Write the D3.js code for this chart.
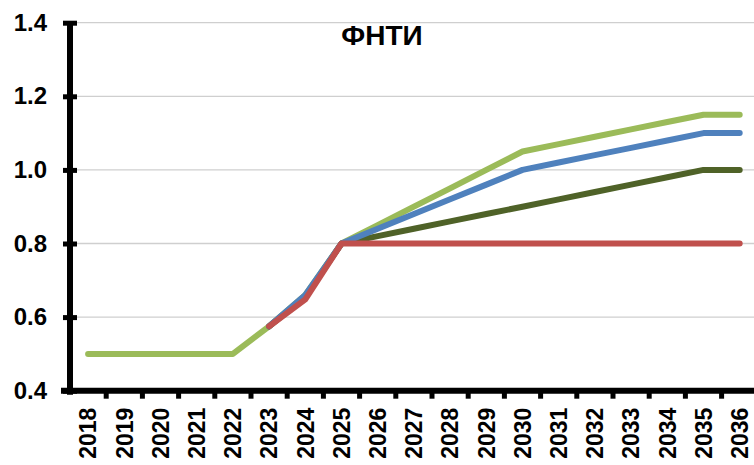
<!DOCTYPE html>
<html><head><meta charset="utf-8">
<script src="https://cdn.jsdelivr.net/npm/d3@7"></script>
<style>body{margin:0;background:#fff}svg{display:block}</style>
</head><body>
<script>
const years = ["2018","2019","2020","2021","2022","2023","2024","2025","2026","2027","2028","2029","2030","2031","2032","2033","2034","2035","2036"];
const yTicks = [0.4,0.6,0.8,1.0,1.2,1.4];
const title = "ФНТИ";
const lightGreen = [0.5,0.5,0.5,0.5,0.5,0.575,0.66,0.8,0.85,0.9,0.95,1.0,1.05,1.07,1.09,1.11,1.13,1.15,1.15];
const darkGreen  = [null,null,null,null,null,0.575,0.655,0.8,0.82,0.84,0.86,0.88,0.9,0.92,0.94,0.96,0.98,1.0,1.0];
const blue       = [null,null,null,null,null,0.575,0.66,0.8,0.84,0.88,0.92,0.96,1.0,1.02,1.04,1.06,1.08,1.1,1.1];
const red        = [null,null,null,null,null,0.575,0.648,0.8,0.8,0.8,0.8,0.8,0.8,0.8,0.8,0.8,0.8,0.8,0.8];
const seriesList = [
  {values: lightGreen, color: "#9BBB59"},
  {values: darkGreen, color: "#4F6228"},
  {values: blue, color: "#4F81BD"},
  {values: red, color: "#C0504D"}
];

const W = 754, H = 465;
const svg = d3.select("body").append("svg").attr("width", W).attr("height", H);
const x = d3.scaleBand().domain(years).range([70, 70 + 19*36.2]);
const y = d3.scaleLinear().domain([0.4, 1.4]).range([390.7, 22.7]);
const font = "Arial, 'Liberation Sans', sans-serif";

// gridlines
svg.append("g").selectAll("line").data(yTicks.filter(d => d > 0.4)).join("line")
  .attr("x1", 70).attr("x2", W).attr("y1", d => y(d)).attr("y2", d => y(d))
  .attr("stroke", "#cfcfcf").attr("stroke-width", 1.3);

// lines
const line = d3.line().defined(d => d != null)
  .x((d, i) => x(years[i]) + x.bandwidth()/2).y(d => y(d));
seriesList.forEach(s => {
  svg.append("path").datum(s.values).attr("d", line)
    .attr("fill", "none").attr("stroke", s.color).attr("stroke-width", 6)
    .attr("stroke-linecap", "round").attr("stroke-linejoin", "round");
});

// y axis
const yAxis = d3.axisLeft(y).tickValues(yTicks).tickFormat(d3.format(".1f")).tickSize(7).tickPadding(16);
const gy = svg.append("g").attr("transform", "translate(70,0)").call(yAxis);
gy.select(".domain").attr("stroke", "#000").attr("stroke-width", 6).attr("d", `M0,${y(1.4)-1}V${y(0.4)+4}`);
gy.selectAll(".tick line").attr("stroke", "#000").attr("stroke-width", 5).attr("x1", 7).attr("x2", -7);
gy.selectAll(".tick text").attr("font-family", font).attr("font-weight", "bold").attr("font-size", 24).attr("fill", "#000");

// x axis
const xAxis = d3.axisBottom(x).tickSize(0).tickPadding(0);
const gx = svg.append("g").attr("transform", `translate(0,${y(0.4)})`).call(xAxis);
gx.select(".domain").attr("stroke", "#000").attr("stroke-width", 6).attr("d", `M61,0H${W}`);
gx.selectAll(".tick text").attr("font-family", font).attr("font-weight", "bold").attr("font-size", 23).attr("fill", "#000")
  .attr("transform", "rotate(-90)").attr("text-anchor", "end").attr("dy", "0.36em").attr("x", -17).attr("y", 0);
// category separator ticks
svg.append("g").selectAll("line").data(years.slice(1)).join("line")
  .attr("x1", d => x(d)).attr("x2", d => x(d))
  .attr("y1", y(0.4)).attr("y2", y(0.4) + 8)
  .attr("stroke", "#000").attr("stroke-width", 5);

// title
svg.append("text").attr("x", 382).attr("y", 45).attr("text-anchor", "middle")
  .attr("font-family", font).attr("font-weight", "bold").attr("font-size", 28).text(title);
</script>
</body></html>
